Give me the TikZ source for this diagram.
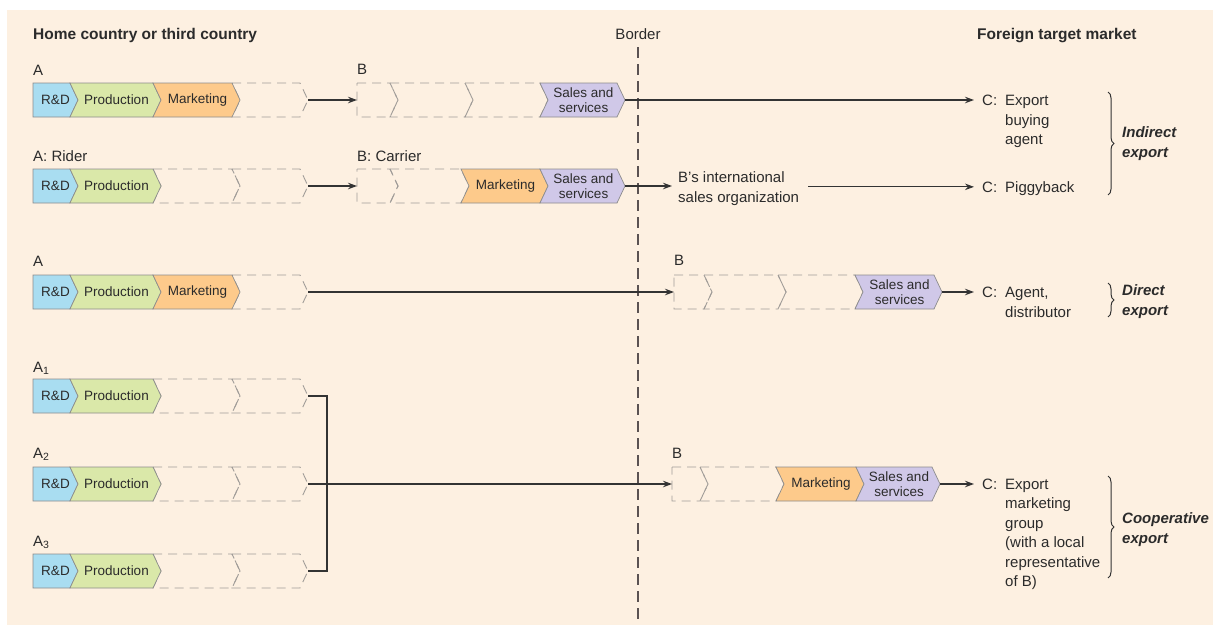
\documentclass[tikz,border=0pt]{standalone}
\usepackage{fontspec}
\setmainfont{Liberation Sans}
\usetikzlibrary{arrows.meta,decorations.pathreplacing}
\definecolor{bgc}{HTML}{FDF0E1}
\definecolor{rdc}{HTML}{A9DDF1}
\definecolor{prc}{HTML}{DAE8A9}
\definecolor{mkc}{HTML}{FDCA8B}
\definecolor{sac}{HTML}{D0C8E8}
\definecolor{segline}{HTML}{8C8C8C}
\definecolor{dashc}{HTML}{A09C98}
\definecolor{txt}{HTML}{2B2B2B}
\definecolor{linec}{HTML}{333333}
\definecolor{borderc}{HTML}{5B5252}
\newcommand{\lblfont}{\fontsize{15}{19.5}\selectfont}
\newcommand{\hdrfont}{\fontsize{15.5}{19}\selectfont\bfseries}
\newcommand{\segfont}{\fontsize{13.5}{14.5}\selectfont}
\newcommand{\brfont}{\fontsize{15}{19.5}\selectfont\bfseries\itshape}
% straight-left chevron segment: name, x1, x2, yc, style, text
\newcommand{\chevS}[6]{%
  \path[#5] (#2,#4-17) -- (#3,#4-17) -- (#3+8,#4) -- (#3,#4+17) -- (#2,#4+17) -- cycle;
  \coordinate (#1-tip) at (#3+8,#4);
  \coordinate (#1-in) at (#2,#4);
  \node[segtext] (#1) at ({(#2+#3+8)/2},#4) {#6};}
% notched chevron segment
\newcommand{\chevN}[6]{%
  \path[#5] (#2,#4-17) -- (#3,#4-17) -- (#3+8,#4) -- (#3,#4+17) -- (#2,#4+17) -- (#2+8,#4) -- cycle;
  \coordinate (#1-tip) at (#3+8,#4);
  \coordinate (#1-in) at (#2,#4);
  \node[segtext] (#1) at ({(#2+#3)/2+5},#4) {#6};}
\newcommand{\tb}[1]{\begin{tabular}[t]{@{}l@{}}#1\end{tabular}}
\begin{document}
\begin{tikzpicture}[x=1pt,y=-1pt,
  segtext/.style={font=\segfont,inner sep=0pt,text=txt,align=center},
  rdseg/.style={fill=rdc,draw=segline,line width=0.7pt,line join=miter},
  prseg/.style={fill=prc,draw=segline,line width=0.7pt,line join=miter},
  mkseg/.style={fill=mkc,draw=segline,line width=0.7pt,line join=miter},
  saseg/.style={fill=sac,draw=segline,line width=0.7pt,line join=miter},
  dsh/.style={draw=dashc,line width=0.9pt,dash pattern=on 9pt off 6pt},
  lbl/.style={font=\lblfont,inner sep=0pt,text=txt,anchor=base west},
  brl/.style={font=\brfont,inner sep=0pt,text=txt,anchor=base west},
  arr/.style={draw=linec,line width=1.1pt,-{Stealth[length=9pt,width=6.5pt]}},
  conn/.style={draw=linec,line width=1.1pt},
  brc/.style={draw=linec,line width=1pt,decorate,decoration={brace,amplitude=6pt}},
  bline/.style={draw=borderc,line width=1.8pt,dash pattern=on 11pt off 6pt}]
\useasboundingbox (0,0) rectangle (1213,625);
\fill[bgc] (7,10) rectangle (1213,625);

% headers
\node[lbl,font=\hdrfont] (hhome) at (33,39) {Home country or third country};
\node[lbl,anchor=base] (hborder) at (638,39) {Border};
\node[lbl,font=\hdrfont] (hforeign) at (977,39) {Foreign target market};
\coordinate (btop) at (638,47);
\coordinate (bbot) at (638,625);
\draw[bline] (btop) -- (bbot);

% ---------- Row 1 ----------
\node[lbl] (la1) at (33,75) {A};
\chevN{a1d}{232}{300}{100}{dsh}{}
\chevS{a1r}{33}{70}{100}{rdseg}{R\&D}
\chevN{a1p}{70}{153}{100}{prseg}{Production}
\chevN{a1m}{153}{232}{100}{mkseg}{Marketing}
\node[lbl] (lb1) at (357,74) {B};
\chevS{b1r}{357}{390}{100}{dsh}{}
\chevN{b1p}{390}{465}{100}{dsh}{}
\chevN{b1m}{465}{540}{100}{dsh}{}
\chevN{b1s}{540}{617}{100}{saseg}{Sales and\\services}
\node[lbl] (c1) at (982,105.5) {C:};
\node[lbl] (c1t) at (1005,105.5) {\tb{Export\\buying\\agent}};
\draw[arr] (a1d-tip) -- (b1r-in);
\draw[arr,shorten >=8pt] (b1s-tip) -- (b1s-tip -| c1.west);

% ---------- Row 2 ----------
\node[lbl] (la2) at (33,161) {A: Rider};
\chevN{a2m}{153}{232}{186}{dsh}{}
\chevN{a2d}{232}{300}{186}{dsh}{}
\chevS{a2r}{33}{70}{186}{rdseg}{R\&D}
\chevN{a2p}{70}{153}{186}{prseg}{Production}
\node[lbl] (lb2) at (357,161) {B: Carrier};
\chevS{b2r}{357}{390}{186}{dsh}{}
\chevN{b2p}{390}{461}{186}{dsh}{}
\chevN{b2m}{461}{540}{186}{mkseg}{Marketing}
\chevN{b2s}{540}{617}{186}{saseg}{Sales and\\services}
\node[lbl] (bint) at (678,182.5) {\tb{B's international\\sales organization}};
\node[lbl] (c2) at (982,192) {C:};
\node[lbl] (c2t) at (1005,192) {Piggyback};
\draw[arr] (a2d-tip) -- (b2r-in);
\draw[arr,shorten >=6pt] (b2s-tip) -- (b2s-tip -| bint.west);
\draw[arr,shorten <=9pt,shorten >=8pt] (bint.east |- c2.west) -- (c2.west);

% ---------- Row 3 ----------
\node[lbl] (la3) at (33,266) {A};
\chevN{a3d}{232}{300}{292}{dsh}{}
\chevS{a3r}{33}{70}{292}{rdseg}{R\&D}
\chevN{a3p}{70}{153}{292}{prseg}{Production}
\chevN{a3m}{153}{232}{292}{mkseg}{Marketing}
\node[lbl] (lb3) at (674,265) {B};
\chevS{b3r}{674}{704}{292}{dsh}{}
\chevN{b3p}{704}{778}{292}{dsh}{}
\chevN{b3m}{778}{855}{292}{dsh}{}
\chevN{b3s}{855}{934}{292}{saseg}{Sales and\\services}
\node[lbl] (c3) at (982,297.5) {C:};
\node[lbl] (c3t) at (1005,297.5) {\tb{Agent,\\distributor}};
\draw[arr] (a3d-tip) -- (b3r-in);
\draw[arr,shorten >=8pt] (b3s-tip) -- (b3s-tip -| c3.west);

% ---------- Rows 4-6 (A1, A2, A3) ----------
\node[lbl] (la4) at (33,372) {A\textsubscript{1}};
\chevN{a4m}{153}{232}{396}{dsh}{}
\chevN{a4d}{232}{300}{396}{dsh}{}
\chevS{a4r}{33}{70}{396}{rdseg}{R\&D}
\chevN{a4p}{70}{153}{396}{prseg}{Production}

\node[lbl] (la5) at (33,458) {A\textsubscript{2}};
\chevN{a5m}{153}{232}{484}{dsh}{}
\chevN{a5d}{232}{300}{484}{dsh}{}
\chevS{a5r}{33}{70}{484}{rdseg}{R\&D}
\chevN{a5p}{70}{153}{484}{prseg}{Production}

\node[lbl] (la6) at (33,546) {A\textsubscript{3}};
\chevN{a6m}{153}{232}{571}{dsh}{}
\chevN{a6d}{232}{300}{571}{dsh}{}
\chevS{a6r}{33}{70}{571}{rdseg}{R\&D}
\chevN{a6p}{70}{153}{571}{prseg}{Production}

\coordinate (jn) at (327,484);
\draw[conn] (a4d-tip) -| (jn) |- (a6d-tip);

\node[lbl] (lb6) at (672,458) {B};
\chevS{b6r}{672}{700}{484}{dsh}{}
\chevN{b6p}{700}{776}{484}{dsh}{}
\chevN{b6m}{776}{856}{484}{mkseg}{Marketing}
\chevN{b6s}{856}{932}{484}{saseg}{Sales and\\services}
\node[lbl] (c6) at (982,489) {C:};
\node[lbl] (c6t) at (1005,489) {\tb{Export\\marketing\\group\\(with a local\\representative\\of B)}};
\draw[arr] (a5d-tip) -- (b6r-in);
\draw[arr,shorten >=8pt] (b6s-tip) -- (b6s-tip -| c6.west);

% ---------- braces ----------
\draw[brc] (1108,92) -- (1108,195);
\node[brl] (bi) at (1122,137.5) {\tb{Indirect\\export}};
\draw[brc] (1108,283) -- (1108,317);
\node[brl] (bd) at (1122,295.5) {\tb{Direct\\export}};
\draw[brc] (1108,476) -- (1108,578);
\node[brl] (bc) at (1122,523.5) {\tb{Cooperative\\export}};
\end{tikzpicture}
\end{document}
